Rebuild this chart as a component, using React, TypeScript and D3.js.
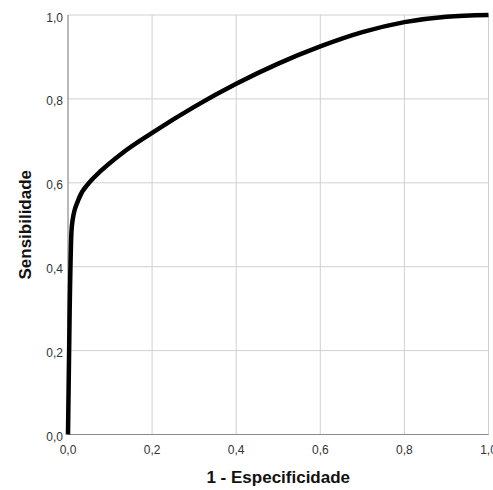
import { useEffect, useRef } from 'react';
import * as d3 from 'd3';

// ROC curve points
const fpr = [0, 0.004, 0.008, 0.011, 0.0245, 0.052, 0.08, 0.128, 0.2, 0.3, 0.4, 0.5, 0.6, 0.7, 0.8, 0.9, 1.0];
const tpr = [0, 0.3, 0.48, 0.511, 0.559, 0.602, 0.63, 0.67, 0.719, 0.781, 0.836, 0.884, 0.925, 0.959, 0.983, 0.996, 1.0];

const ticks = [0, 0.2, 0.4, 0.6, 0.8, 1.0];
const xTitle = '1 - Especificidade';
const yTitle = 'Sensibilidade';

const App = () => {
  const ref = useRef<SVGSVGElement>(null);
  const width = 493;
  const height = 490;
  const margin = { top: 15, right: 4.5, bottom: 55.5, left: 68 };

  useEffect(() => {
    const svg = d3.select(ref.current);
    svg.selectAll('*').remove();

    const x = d3.scaleLinear().domain([0, 1]).range([margin.left, width - margin.right]);
    const y = d3.scaleLinear().domain([0, 1]).range([height - margin.bottom, margin.top]);
    const fmt = (d: number) => d.toFixed(1).replace('.', ',');
    const font = '"Liberation Sans", Arial, sans-serif';

    // grid
    const grid = svg.append('g').attr('stroke', '#d0d0d0').attr('stroke-width', 1);
    ticks.forEach((t) => {
      grid.append('line').attr('x1', x(t)).attr('x2', x(t)).attr('y1', y(0)).attr('y2', y(1));
      grid.append('line').attr('x1', x(0)).attr('x2', x(1)).attr('y1', y(t)).attr('y2', y(t));
    });

    // axis lines
    svg.append('line').attr('x1', x(0)).attr('x2', x(0)).attr('y1', y(0)).attr('y2', y(1))
      .attr('stroke', '#8a8a8a').attr('stroke-width', 1);
    svg.append('line').attr('x1', x(0)).attr('x2', x(1)).attr('y1', y(0)).attr('y2', y(0))
      .attr('stroke', '#8a8a8a').attr('stroke-width', 1);

    // tick labels
    svg.append('g').selectAll('text').data(ticks).join('text')
      .attr('x', x(0) - 5).attr('y', (d) => y(d) + 6.5)
      .attr('text-anchor', 'end').attr('font-family', font).attr('font-size', 12)
      .attr('fill', '#333').text(fmt);
    svg.append('g').selectAll('text').data(ticks).join('text')
      .attr('x', (d) => x(d)).attr('y', y(0) + 19.5)
      .attr('text-anchor', 'middle').attr('font-family', font).attr('font-size', 12)
      .attr('fill', '#333').text(fmt);

    // curve
    const line = d3.line<number>()
      .x((d, i) => x(fpr[i]))
      .y((d) => y(d))
      .curve(d3.curveMonotoneX);
    svg.append('path').datum(tpr).attr('d', line)
      .attr('fill', 'none').attr('stroke', '#000').attr('stroke-width', 4.5)
      .attr('stroke-linejoin', 'round');

    // titles
    svg.append('text').attr('x', (x(0) + x(1)) / 2).attr('y', 482.7)
      .attr('text-anchor', 'middle').attr('font-family', font).attr('font-weight', 'bold')
      .attr('font-size', 17).attr('fill', '#111').text(xTitle);
    svg.append('text')
      .attr('transform', `translate(31,${(y(0) + y(1)) / 2}) rotate(-90)`)
      .attr('text-anchor', 'middle').attr('font-family', font).attr('font-weight', 'bold')
      .attr('font-size', 17).attr('fill', '#111').text(yTitle);
  }, []);

  return (
    <svg ref={ref} width={width} height={height}
      style={{ position: 'absolute', left: 0, top: 0, background: '#fff' }} />
  );
};

export default App;
